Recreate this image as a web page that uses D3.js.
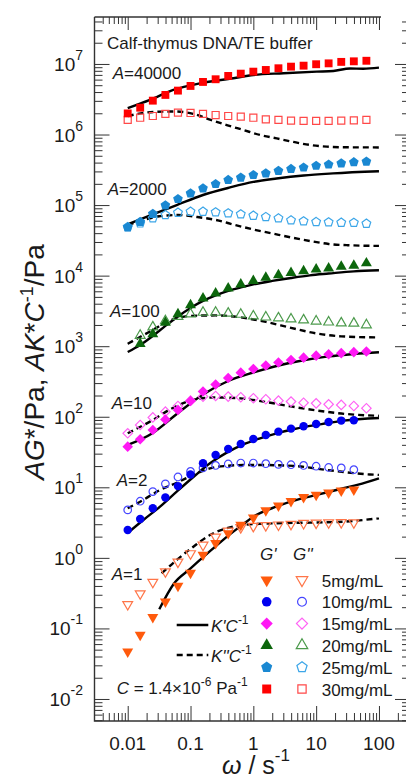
<!DOCTYPE html>
<html>
<head>
<meta charset="utf-8">
<script src="https://cdnjs.cloudflare.com/ajax/libs/d3/7.8.5/d3.min.js"></script>
<style>
body{margin:0;background:#fff;}
svg{display:block;}
text{font-family:"Liberation Sans",Arial,sans-serif;fill:#1a1a1a;}
</style>
</head>
<body>
<svg id="chart" width="406" height="776"></svg>
<script>
// angular frequency of the measured points, s^-1
var omega = [0.01,0.0158,0.0251,0.0398,0.0631,0.1,0.158,0.251,0.398,0.631,1,1.58,2.51,3.98,6.31,10,15.8,25.1,39.8,63.1];

var concLabels = ["5mg/mL","10mg/mL","15mg/mL","20mg/mL","25mg/mL","30mg/mL"];
var shiftLabels = ["1","2","10","100","2000","40000"];

// A*G' (filled) and A*G'' (open), Pa
var gp5  = [0.0469,0.0808,0.144,0.240,0.400,0.612,1.10,1.61,2.23,2.93,3.70,4.70,5.48,6.37,7.26,7.80,8.40,8.97,9.27,null];
var gpp5 = [0.219,0.311,0.453,0.638,0.875,1.15,1.52,1.98,2.40,2.70,2.81,2.88,2.94,3.00,3.09,3.12,3.16,3.18,3.16,null];
var gp10  = [2.49,3.56,5.05,7.18,10.4,15.2,21.9,28.8,35.0,41.2,48.5,55.3,61.5,67.9,73.4,79.1,84.5,88.2,89.3,null];
var gpp10 = [4.78,6.35,8.69,11.2,14.0,16.8,18.8,20.4,21.4,22.1,22.1,21.6,21.1,20.9,20.4,19.9,19.1,18.8,17.8,null];
var gp15  = [37.7,48.0,65.0,91.6,125,167,228,287,355,422,476,533,588,638,688,735,769,797,824,842];
var gpp15 = [58.3,76.5,97.8,118,142,169,193,197,193,189,183,177,169,164,158,155,150,147,142,132];
var gp20  = [null,1080,1490,2160,2860,3840,4780,5620,6620,7550,8410,9360,10200,11000,11600,12300,12700,13400,13900,15000];
var gpp20 = [null,1420,1870,2280,2640,2860,3010,3010,2930,2820,2670,2580,2510,2420,2350,2260,2190,2130,2110,2000];
var gp25  = [48500,57700,74900,98800,122000,147000,173000,199000,227000,246000,267000,282000,305000,325000,341000,361000,376000,391000,405000,413000];
var gpp25 = [49000,55200,65000,72400,78100,80700,80700,79100,76600,74100,70800,67900,65000,60900,59000,57700,57100,56400,56200,54600];
var gp30  = [1.99e6,2.40e6,3.02e6,3.64e6,4.19e6,4.88e6,5.56e6,6.07e6,6.76e6,7.29e6,7.78e6,8.22e6,8.69e6,9.16e6,9.46e6,9.91e6,1.02e7,1.07e7,1.09e7,1.11e7];
var gpp30 = [1.61e6,1.73e6,1.83e6,1.96e6,2.04e6,2.02e6,1.96e6,1.89e6,1.83e6,1.79e6,1.73e6,1.64e6,1.61e6,1.57e6,1.56e6,1.56e6,1.56e6,1.57e6,1.59e6,1.61e6];

// model curves A*K'C^-1 (solid) and A*K''C^-1 (dashed): [omega, value]
var kp5  = [[0.0318,0.187],[0.0546,0.434],[0.0982,0.697],[0.16,1.03],[0.245,1.43],[0.395,2.05],[0.631,2.83],[1,3.84],[2.36,5.35],[5.55,6.84],[10.2,7.80],[27.1,9.70],[46.8,10.9],[100,13.4]];
var kpp5 = [[0.0348,0.605],[0.0603,0.935],[0.111,1.44],[0.204,2.11],[0.377,2.63],[0.693,2.93],[2.36,3.10],[8.0,3.16],[27.1,3.26],[100,3.64]];
var kp10  = [[0.01,2.25],[0.0177,3.44],[0.0327,5.32],[0.0603,8.69],[0.111,14.0],[0.204,21.9],[0.377,31.0],[0.693,40.7],[1.28,49.5],[2.36,58.3],[4.34,66.5],[8.0,74.1],[14.8,80.9],[27.1,88.1],[100,96.2]];
var kpp10 = [[0.01,5.05],[0.0177,6.62],[0.0327,9.18],[0.0603,11.6],[0.111,15.0],[0.204,18.6],[0.377,20.1],[0.693,20.7],[1.28,20.7],[4.34,20.1],[14.8,17.6],[72.1,15.2],[100,15.0]];
var kp15  = [[0.01,39.8],[0.0251,58.9],[0.0631,113],[0.158,207],[0.398,321],[1,424],[2.51,533],[6.31,632],[15.8,716],[39.8,776],[100,821]];
var kpp15 = [[0.01,58.3],[0.0226,85.3],[0.0502,131],[0.111,173],[0.251,188],[0.631,182],[1.58,162],[3.98,140],[10,123],[25.1,111],[100,103]];
var kp20  = [[0.01,828],[0.0158,1040],[0.0251,1400],[0.0398,1940],[0.0631,2640],[0.1,3480],[0.158,4380],[0.251,5240],[0.398,6070],[0.631,6800],[1,7500],[2,8410],[3.98,9270],[7.94,10100],[15.8,10700],[39.8,11500],[100,11900]];
var kpp20 = [[0.01,1080],[0.0251,1700],[0.0501,2360],[0.1,2690],[0.251,2730],[0.631,2560],[1.58,2210],[3.98,1820],[10,1520],[25.1,1380],[100,1330]];
var kp25  = [[0.01,53500],[0.0251,73600],[0.0603,100000],[0.158,139000],[0.427,178000],[1,213000],[2.34,238000],[6.31,263000],[18.6,281000],[100,301000]];
var kpp25 = [[0.01,52200],[0.0178,61500],[0.0316,69400],[0.0631,72400],[0.125,67900],[0.255,61500],[0.513,52200],[1,45100],[2,39600],[3.98,34800],[7.94,31000],[15.8,28100],[31.6,27000],[100,26400]];
var kp30  = [[0.01,2.36e6],[0.0226,3.09e6],[0.0532,4.28e6],[0.142,5.32e6],[0.481,6.27e6],[1,6.98e6],[3.01,7.38e6],[10.2,7.78e6],[18.8,7.96e6],[34.7,8.62e6],[56.2,8.55e6],[100,8.87e6]];
var kpp30 = [[0.01,1.83e6],[0.0257,2.09e6],[0.0603,2.12e6],[0.111,1.96e6],[0.204,1.63e6],[0.377,1.36e6],[0.693,1.16e6],[1.28,9.86e5],[2.36,8.80e5],[4.34,7.85e5],[8.0,7.11e5],[14.8,6.73e5],[27.1,6.60e5],[100,6.56e5]];

var xMajor = [0.01,0.1,1,10,100];
var xMajorLabels = ["0.01","0.1","1","10","100"];
var yMajor = [1e-2,1e-1,1,1e1,1e2,1e3,1e4,1e5,1e6,1e7];
var yMajorExp = ["-2","-1","0","1","2","3","4","5","6","7"];

var svg = d3.select("#chart");
var x = d3.scaleLog().domain([0.00296, 312]).range([94.5, 410]);
var y = d3.scaleLog().domain([0.004875, 4.63e7]).range([721, 17]);

var pentagon = {
	draw: function(ctx, size){
		var r = Math.sqrt(size / 2.378);
		for (var i = 0; i < 5; i++){
			var a = -Math.PI/2 + i * 2 * Math.PI / 5;
			if (i == 0) ctx.moveTo(r*Math.cos(a), r*Math.sin(a));
			else ctx.lineTo(r*Math.cos(a), r*Math.sin(a));
		}
		ctx.closePath();
	}
};

var shapes = {
	tri: {type: d3.symbolTriangle, size: 52, rot: 180},
	circle: {type: d3.symbolCircle, size: 56, rot: 0},
	diamond: {type: d3.symbolSquare, size: 56, rot: 45},
	up: {type: d3.symbolTriangle, size: 52, rot: 0},
	pent: {type: pentagon, size: 62, rot: 0},
	square: {type: d3.symbolSquare, size: 62, rot: 0}
};

var series = [
	{g1: gp5, g2: gpp5, k1: kp5, k2: kpp5, fill: "#ff5a0c", line: "#ff7548", shape: "tri"},
	{g1: gp10, g2: gpp10, k1: kp10, k2: kpp10, fill: "#0000f0", line: "#4646ff", shape: "circle"},
	{g1: gp15, g2: gpp15, k1: kp15, k2: kpp15, fill: "#ff18f4", line: "#ff62f4", shape: "diamond"},
	{g1: gp20, g2: gpp20, k1: kp20, k2: kpp20, fill: "#0c660c", line: "#4c9a4c", shape: "up"},
	{g1: gp25, g2: gpp25, k1: kp25, k2: kpp25, fill: "#1a88d2", line: "#3ca6e8", shape: "pent"},
	{g1: gp30, g2: gpp30, k1: kp30, k2: kpp30, fill: "#ff0000", line: "#ff4848", shape: "square"}
];

// ---- axes frame and ticks
function minorTicks(lo, hi){
	var out = [];
	for (var e = lo; e <= hi; e++) for (var m = 2; m <= 9; m++) out.push(m * Math.pow(10, e));
	return out;
}
var xMinor = minorTicks(-3, 2).filter(function(d){return d > 0.003 && d < 310;});
var yMinor = minorTicks(-3, 7).filter(function(d){return d > 0.0049 && d < 4.6e7;});

function tickGroup(axisFn, scale, values, size, tx, ty){
	var g = svg.append("g").attr("transform", "translate(" + tx + "," + ty + ")")
		.call(axisFn(scale).tickValues(values).tickSize(size).tickFormat(""));
	g.select(".domain").remove();
	g.selectAll("line").attr("stroke", "#333").attr("stroke-width", 1);
	g.selectAll("text").remove();
}

tickGroup(d3.axisLeft, y, yMajor, -15, 94.5, 0);
tickGroup(d3.axisLeft, y, yMinor, -8, 94.5, 0);
tickGroup(d3.axisRight, y, yMajor, -15, 410, 0);
tickGroup(d3.axisRight, y, yMinor, -8, 410, 0);
tickGroup(d3.axisBottom, x, xMajor, -15, 0, 721);
tickGroup(d3.axisBottom, x, xMinor, -8, 0, 721);
tickGroup(d3.axisTop, x, xMajor, -13, 0, 17);
tickGroup(d3.axisTop, x, xMinor.filter(function(d){return d < 100;}), -7, 0, 17);

svg.append("path").attr("d", "M94.5,17V721H410").attr("fill", "none").attr("stroke", "#333").attr("stroke-width", 1.4);
svg.append("path").attr("d", "M94.5,17H381").attr("fill", "none").attr("stroke", "#333").attr("stroke-width", 1.4);

svg.append("g").selectAll("text").data(xMajor).enter().append("text")
	.attr("x", function(d){return x(d);}).attr("y", 750)
	.attr("text-anchor", "middle").style("font-size", "19px")
	.text(function(d, i){return xMajorLabels[i];});

var yl = svg.append("g").selectAll("text").data(yMajor).enter().append("text")
	.attr("x", 83).attr("y", function(d){return y(d) + 7;})
	.attr("text-anchor", "end").style("font-size", "19px");
yl.append("tspan").text("10");
yl.append("tspan").attr("dy", -11).style("font-size", "14px").text(function(d, i){return yMajorExp[i];});

// ---- model lines
var line = d3.line().x(function(d){return x(d[0]);}).y(function(d){return y(d[1]);}).curve(d3.curveMonotoneX);
series.forEach(function(s){
	svg.append("path").attr("d", line(s.k2)).attr("fill", "none").attr("stroke", "#000")
		.attr("stroke-width", 2.4).attr("stroke-dasharray", "6,4");
	svg.append("path").attr("d", line(s.k1)).attr("fill", "none").attr("stroke", "#000")
		.attr("stroke-width", 2.4);
});

// ---- markers
function symPath(shape, open){
	var sh = shapes[shape];
	return d3.symbol().type(sh.type).size(open ? sh.size * 0.8 : sh.size)();
}
function drawMarks(vals, s, open){
	var sh = shapes[s.shape];
	var pts = omega.map(function(w, i){return [w, vals[i]];}).filter(function(d){return d[1] != null;});
	svg.append("g").selectAll("path").data(pts).enter().append("path")
		.attr("d", symPath(s.shape, open))
		.attr("transform", function(d){return "translate(" + x(d[0]) + "," + y(d[1]) + ") rotate(" + sh.rot + ")";})
		.attr("fill", open ? "none" : s.fill)
		.attr("stroke", open ? s.line : "none")
		.attr("stroke-width", 1.2);
}
series.forEach(function(s){
	drawMarks(s.g2, s, true);
	drawMarks(s.g1, s, false);
});

// ---- annotations
function italicLabel(txt, xx, yy, parts){
	var t = svg.append("text").attr("x", xx).attr("y", yy).style("font-size", "17px");
	parts.forEach(function(p){
		var ts = t.append("tspan").text(p[0]);
		if (p[1] == "i") ts.style("font-style", "italic");
		if (p[1] == "sup") ts.attr("dy", -8).style("font-size", "12px");
		if (p[1] == "base") ts.attr("dy", 8);
	});
	return t;
}

svg.append("text").attr("x", 107).attr("y", 49).style("font-size", "17px").text("Calf-thymus DNA/TE buffer");

var shiftPos = [[111.7,580],[116.7,486],[111.7,409],[110,316.7],[107.7,195],[112.7,79]];
shiftLabels.forEach(function(a, i){
	italicLabel("", shiftPos[i][0], shiftPos[i][1], [["A","i"],["=" + a,""]]);
});

// legend
italicLabel("", 260, 560, [["G'","i"]]);
italicLabel("", 293, 560, [["G''","i"]]);
concLabels.forEach(function(c, i){
	var ly = 580 + i * 21.8;
	var s = series[i], sh = shapes[s.shape];
	svg.append("path").attr("d", d3.symbol().type(sh.type).size(sh.size * 1.3)())
		.attr("transform", "translate(266.7," + ly + ") rotate(" + sh.rot + ")")
		.attr("fill", s.fill);
	svg.append("path").attr("d", d3.symbol().type(sh.type).size(sh.size * 1.1)())
		.attr("transform", "translate(302," + ly + ") rotate(" + sh.rot + ")")
		.attr("fill", "none").attr("stroke", s.line).attr("stroke-width", 1.2);
	svg.append("text").attr("x", 321.7).attr("y", ly + 6.5).style("font-size", "17px").text(c);
});

svg.append("line").attr("x1", 176.7).attr("x2", 208.3).attr("y1", 625).attr("y2", 625)
	.attr("stroke", "#000").attr("stroke-width", 2.4);
italicLabel("", 211, 631.5, [["K'C","i"],["-1","sup"]]);
svg.append("line").attr("x1", 176.7).attr("x2", 208.3).attr("y1", 655).attr("y2", 655)
	.attr("stroke", "#000").attr("stroke-width", 2.4).attr("stroke-dasharray", "6,4");
italicLabel("", 211, 661.5, [["K''C","i"],["-1","sup"]]);

italicLabel("", 116.7, 694, [["C","i"],[" = 1.4\u00d710",""],["-6","sup"],[" Pa","base"],["-1","sup"]]);

// axis titles
var yt = svg.append("text").attr("transform", "translate(44,362) rotate(-90)")
	.attr("text-anchor", "middle").style("font-size", "28px");
yt.append("tspan").style("font-style", "italic").text("AG");
yt.append("tspan").text("*/Pa, ");
yt.append("tspan").style("font-style", "italic").text("AK");
yt.append("tspan").text("*");
yt.append("tspan").style("font-style", "italic").text("C");
yt.append("tspan").attr("dy", -11).style("font-size", "18px").text("-1");
yt.append("tspan").attr("dy", 11).text("/Pa");

var xt = svg.append("text").attr("x", 222).attr("y", 774)
	.attr("text-anchor", "start").style("font-size", "25px");
xt.append("tspan").style("font-style", "italic").text("\u03c9");
xt.append("tspan").text(" / s");
xt.append("tspan").attr("dy", -13).style("font-size", "17px").text("-1");
</script>
</body>
</html>
